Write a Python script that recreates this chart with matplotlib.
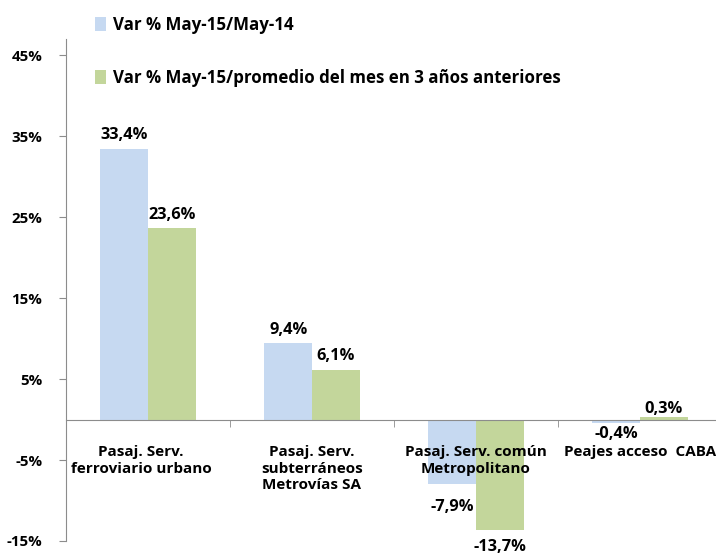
import matplotlib
matplotlib.use("Agg")
import matplotlib.pyplot as plt
import numpy as np

plt.rcParams['font.family'] = ['Open Sans', 'DejaVu Sans']
plt.rcParams['font.weight'] = 'bold'

categories = ["Pasaj. Serv.\nferroviario urbano", "Pasaj. Serv.\nsubterráneos\nMetrovías SA",
              "Pasaj. Serv. común\nMetropolitano", "Peajes acceso  CABA"]
series1_name = "Var % May-15/May-14"
series2_name = "Var % May-15/promedio del mes en 3 años anteriores"
series1 = [33.4, 9.4, -7.9, -0.4]
series2 = [23.6, 6.1, -13.7, 0.3]
yticks = [-15, -5, 5, 15, 25, 35, 45]

c1 = '#C6D9F1'
c2 = '#C3D69B'

fig = plt.figure(figsize=(7.16, 5.53), dpi=100)
ax = fig.add_axes([66/716, 1-541/553, 656/716, (541-39)/553])
x = np.arange(len(categories))
w = 0.29
b1 = ax.bar(x - w/2, series1, w, color=c1, label=series1_name)
b2 = ax.bar(x + w/2, series2, w, color=c2, label=series2_name)
ax.set_xlim(-0.5, 3.5)
ax.set_ylim(-15, 47)
ax.set_yticks(yticks)
ax.set_yticklabels([f"{t}%" for t in yticks], fontsize=10.8, fontweight='bold')
for s in ['top', 'right']:
    ax.spines[s].set_visible(False)
ax.spines['left'].set_color('#8C8C8C')
ax.spines['bottom'].set_color('#8C8C8C')
ax.spines['bottom'].set_position(('data', 0))
ax.tick_params(axis='y', length=5, color='#8C8C8C', pad=12)
ax.set_xticks([])
ax.set_xticks(np.arange(-0.5, 4.0, 1.0), minor=True)
ax.tick_params(axis='x', which='minor', length=5, color='#8C8C8C', direction='out')

cat_dx = [-5, 0, 0, 0]
for i, lab in enumerate(categories):
    ax.annotate(lab, (x[i], 0), xytext=(cat_dx[i], -18.5), textcoords='offset points',
                ha='center', va='top', fontsize=11, fontweight='bold', linespacing=1.22)

def fmt(v):
    return f"{v:.1f}%".replace('.', ',')

offs1 = [10, 10, -17, -8]
offs2 = [10, 10, -12, 6]
for i in range(len(categories)):
    for xs, v, o in [(x[i] - w/2, series1[i], offs1[i]), (x[i] + w/2, series2[i], offs2[i])]:
        ax.annotate(fmt(v), (xs, v), xytext=(0, o), textcoords='offset points',
                    ha='center', va='center', fontsize=11.8, fontweight='bold')

leg = fig.legend(handles=[b1, b2], loc='upper left', bbox_to_anchor=(88/716, 1-9/553),
                 frameon=False, fontsize=12.2, handlelength=0.65, handleheight=0.9,
                 handletextpad=0.4, labelspacing=2.05, borderaxespad=0)
for t in leg.get_texts():
    t.set_fontweight('bold')

fig.savefig('out.png', dpi=100)
